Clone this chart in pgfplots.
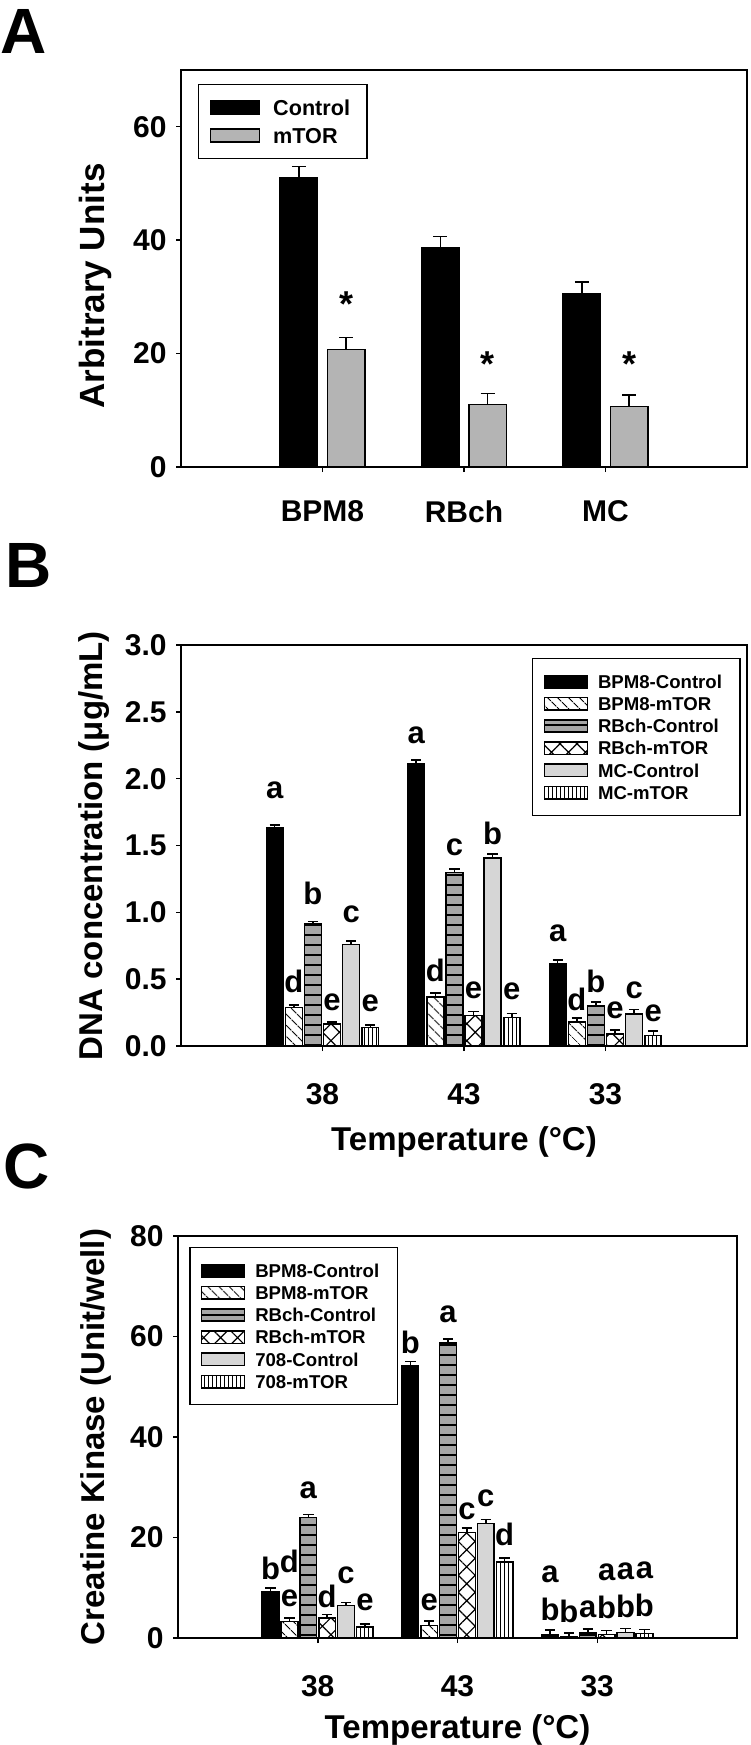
\documentclass[border=0pt]{standalone}
\usepackage{fontspec}
\setmainfont{Liberation Sans}
\usepackage{pgfplots}
\pgfplotsset{compat=1.18}
\usetikzlibrary{patterns.meta}

\definecolor{agray}{RGB}{180,180,180}
\definecolor{rbgray}{RGB}{166,166,166}
\definecolor{mcgray}{RGB}{214,214,214}

% letter above a bar
\newcommand{\tl}[3]{\node[font=\fontsize{15.5}{18}\selectfont\bfseries,inner sep=0pt] at (axis cs:#1,#2) {#3};}

\pgfplotsset{
  panel/.style={
    scale only axis, enlargelimits=false,
    xmin=0, xmax=4, ymin=0, xtick={1,2,3},
    axis line style={line width=0.75pt},
    tick align=outside, xtick pos=left, ytick pos=left,
    major tick length=2.5pt,
    every tick/.style={black,line width=0.75pt},
    /pgf/number format/assume math mode=true,
    tick label style={font=\fontsize{15}{18}\selectfont\bfseries,inner sep=0pt},
    yticklabel style={xshift=-4.5pt},
    label style={font=\fontsize{16.5}{20}\selectfont\bfseries,inner sep=0pt},
    legend cell align=left,
    legend style={draw=black,line width=0.75pt,column sep=5pt,
      inner xsep=5.5pt,inner ysep=8pt,
      nodes={inner sep=0pt,text height=6.7pt,text depth=0pt},
      font=\fontsize{9.3}{11}\selectfont\bfseries,row sep=4.15pt},
  },
  bar/.style={ybar,bar width=0.12,bar shift=0pt,draw=black,line width=0.75pt,
    legend image code/.code={\draw[##1] (0pt,-3.1pt) rectangle (21.5pt,3.1pt);},
    /pgfplots/error bars/y dir=plus,/pgfplots/error bars/y explicit,
    /pgfplots/error bars/error mark=|,
    /pgfplots/error bars/error bar style={black,line width=0.75pt},
    /pgfplots/error bars/error mark options={black,line width=0.75pt,mark size=2.6pt}},
  s1/.style={bar,fill=black},
  s2/.style={bar,fill=white,postaction={pattern={Lines[angle=-45,distance=4pt,line width=0.6pt]}}},
  s3/.style={bar,fill=rbgray,postaction={pattern={Lines[angle=0,distance=5pt,line width=0.8pt]}}},
  s4/.style={bar,fill=white,postaction={pattern={Hatch[angle=45,distance=6pt,line width=0.6pt]}}},
  s5/.style={bar,fill=mcgray},
  s6/.style={bar,fill=white,postaction={pattern={Lines[angle=90,distance=2pt,line width=0.5pt]}}},
  abar/.style={bar,bar width=0.265,
    legend image code/.code={\draw[##1] (0pt,-3.25pt) rectangle (24.5pt,3.25pt);},
    /pgfplots/error bars/error mark options={black,line width=0.75pt,mark size=3.5pt}},
}

\begin{document}
\begin{tikzpicture}
\useasboundingbox (0,0) rectangle (375pt,-872.5pt);

\node[anchor=north west,inner sep=0pt,font=\fontsize{32}{36}\selectfont\bfseries] at (0pt,-4.5pt) {A};
\node[anchor=north west,inner sep=0pt,font=\fontsize{32}{36}\selectfont\bfseries] at (2.5pt,-271.5pt) {B};
\node[anchor=north west,inner sep=0pt,font=\fontsize{32}{36}\selectfont\bfseries] at (1.5pt,-571.5pt) {C};

% ---------- A ----------
\begin{axis}[panel, at={(90.5pt,-233.5pt)}, anchor=south west,
  width=283pt, height=198.5pt, ymax=70, ytick={0,20,40,60},
  xticklabels={BPM8,RBch,MC},
  xticklabel style={yshift=-14pt},
  ylabel={Arbitrary Units},
  ylabel style={at={(axis description cs:-0.180,0.456)},anchor=north,
    font=\fontsize{17.5}{20}\selectfont\bfseries},
  legend style={at={(0.03,0.965)},anchor=north west,
    font=\fontsize{10.8}{13}\selectfont\bfseries,
    nodes={inner sep=0pt,text height=7.7pt,text depth=0pt},
    row sep=6.3pt,inner ysep=7.6pt,column sep=6.5pt}]
\addplot[abar,fill=black] coordinates {(0.833,51.0) +- (0,2.0) (1.833,38.6) +- (0,2.0) (2.833,30.6) +- (0,2.0)};
\addlegendentry{Control\hspace*{3pt}}
\addplot[abar,fill=agray] coordinates {(1.167,20.7) +- (0,2.1) (2.167,11.0) +- (0,2.0) (3.167,10.7) +- (0,2.0)};
\addlegendentry{mTOR}
\node[font=\fontsize{18}{20}\selectfont\bfseries,inner sep=0pt] at (axis cs:1.167,28.8) {*};
\node[font=\fontsize{18}{20}\selectfont\bfseries,inner sep=0pt] at (axis cs:2.167,18.1) {*};
\node[font=\fontsize{18}{20}\selectfont\bfseries,inner sep=0pt] at (axis cs:3.167,18.1) {*};
\end{axis}

% ---------- B ----------
\begin{axis}[panel, at={(90.5pt,-523pt)}, anchor=south west,
  width=283pt, height=200.5pt, ymax=3, ytick={0,0.5,...,3},
  yticklabel style={/pgf/number format/.cd,fixed,fixed zerofill,precision=1},
  xticklabels={38,43,33},
  xticklabel style={yshift=-16pt},
  xlabel={Temperature (°C)},
  xlabel style={at={(axis description cs:0.5,0)},anchor=north,yshift=-40pt},
  ylabel={DNA concentration (μg/mL)},
  ylabel style={at={(axis description cs:-0.182,0.5)},anchor=north},
  legend style={at={(0.989,0.968)},anchor=north east}]
\addplot[s1] coordinates {(0.6625,1.632) +- (0,0.020) (1.6625,2.112) +- (0,0.027) (2.6625,0.619) +- (0,0.026)};
\addlegendentry{BPM8-Control\hspace*{3.5pt}}
\addplot[s2] coordinates {(0.7975,0.290) +- (0,0.017) (1.7975,0.365) +- (0,0.032) (2.7975,0.179) +- (0,0.031)};
\addlegendentry{BPM8-mTOR}
\addplot[s3] coordinates {(0.9325,0.917) +- (0,0.016) (1.9325,1.299) +- (0,0.026) (2.9325,0.299) +- (0,0.032)};
\addlegendentry{RBch-Control}
\addplot[s4] coordinates {(1.0675,0.165) +- (0,0.015) (2.0675,0.227) +- (0,0.032) (3.0675,0.091) +- (0,0.029)};
\addlegendentry{RBch-mTOR}
\addplot[s5] coordinates {(1.2025,0.760) +- (0,0.024) (2.2025,1.405) +- (0,0.032) (3.2025,0.240) +- (0,0.032)};
\addlegendentry{MC-Control}
\addplot[s6] coordinates {(1.3375,0.139) +- (0,0.018) (2.3375,0.213) +- (0,0.032) (3.3375,0.080) +- (0,0.032)};
\addlegendentry{MC-mTOR}
\tl{0.6625}{1.91}{a}\tl{0.7975}{0.485}{d}\tl{0.9325}{1.14}{b}
\tl{1.0675}{0.325}{e}\tl{1.2025}{0.984}{c}\tl{1.3375}{0.317}{e}
\tl{1.6625}{2.325}{a}\tl{1.7975}{0.565}{d}\tl{1.9325}{1.485}{c}
\tl{2.0675}{0.419}{e}\tl{2.2025}{1.592}{b}\tl{2.3375}{0.41}{e}
\tl{2.6625}{0.845}{a}\tl{2.7975}{0.347}{d}\tl{2.9325}{0.485}{b}
\tl{3.0675}{0.267}{e}\tl{3.2025}{0.419}{c}\tl{3.3375}{0.245}{e}
\end{axis}

% ---------- C ----------
\begin{axis}[panel, at={(89pt,-819pt)}, anchor=south west,
  width=279.5pt, height=201pt, ymax=80, ytick={0,20,...,80},
  xticklabels={38,43,33},
  xticklabel style={yshift=-16pt},
  xlabel={Temperature (°C)},
  xlabel style={at={(axis description cs:0.5,0)},anchor=north,yshift=-38pt},
  ylabel={Creatine Kinase (Unit/well)},
  ylabel style={at={(axis description cs:-0.175,0.5)},anchor=north},
  legend style={at={(0.0197,0.973)},anchor=north west}]
\addplot[s1] coordinates {(0.6625,9.3) +- (0,0.7) (1.6625,54.2) +- (0,0.8) (2.6625,0.7) +- (0,0.9)};
\addlegendentry{BPM8-Control\hspace*{3.5pt}}
\addplot[s2] coordinates {(0.7975,3.3) +- (0,0.7) (1.7975,2.5) +- (0,0.9) (2.7975,0.3) +- (0,0.7)};
\addlegendentry{BPM8-mTOR}
\addplot[s3] coordinates {(0.9325,24.0) +- (0,0.6) (1.9325,58.7) +- (0,0.8) (2.9325,1.0) +- (0,0.8)};
\addlegendentry{RBch-Control}
\addplot[s4] coordinates {(1.0675,4.0) +- (0,0.7) (2.0675,21.0) +- (0,0.9) (3.0675,0.7) +- (0,0.8)};
\addlegendentry{RBch-mTOR}
\addplot[s5] coordinates {(1.2025,6.5) +- (0,0.6) (2.2025,22.8) +- (0,0.8) (3.2025,1.1) +- (0,0.8)};
\addlegendentry{708-Control}
\addplot[s6] coordinates {(1.3375,2.2) +- (0,0.6) (2.3375,15.1) +- (0,0.8) (3.3375,0.9) +- (0,0.8)};
\addlegendentry{708-mTOR}
\tl{0.6625}{13.9}{b}\tl{0.7975}{15.2}{d}\tl{0.7975}{7.9}{e}
\tl{0.9325}{29.4}{a}\tl{1.0675}{8.3}{d}\tl{1.2025}{12.5}{c}\tl{1.3375}{7.1}{e}
\tl{1.6625}{58.9}{b}\tl{1.7975}{7.1}{e}\tl{1.9325}{64.4}{a}
\tl{2.0675}{25.2}{c}\tl{2.2025}{27.9}{c}\tl{2.3375}{20.6}{d}
\tl{2.6625}{12.7}{a}\tl{3.0675}{13.1}{a}\tl{3.2025}{13.3}{a}\tl{3.3375}{13.5}{a}
\tl{2.6625}{5.6}{b}\tl{2.7975}{5.2}{b}\tl{2.9325}{5.7}{a}
\tl{3.0675}{6.0}{b}\tl{3.2025}{6.2}{b}\tl{3.3375}{6.5}{b}
\end{axis}
\end{tikzpicture}
\end{document}
